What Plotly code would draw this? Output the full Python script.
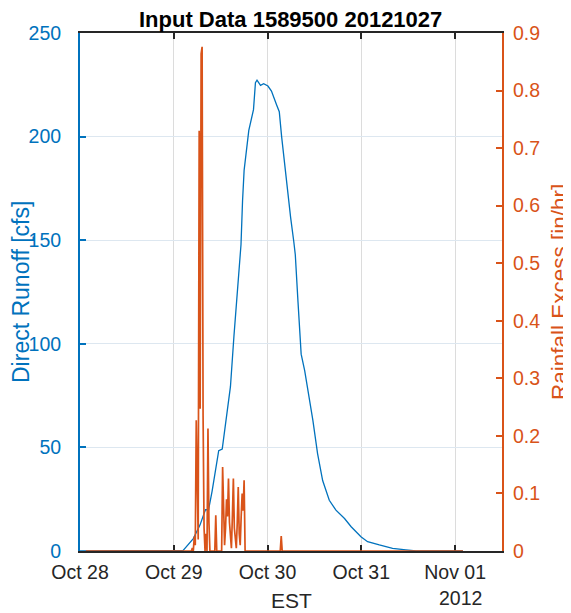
import pandas as pd
import plotly.graph_objects as go

# ---- data (hours since 2012-10-28 00:00 EST) ----
runoff_hours = [0, 24, 26.4, 29.0, 30.7, 32.1, 32.9, 33.8, 34.7, 35.5, 36.4, 37.3, 38.5,
                39.4, 40.3, 41.2, 41.6, 42.0, 43.2, 44.4, 44.9, 45.3, 46.2, 47.0, 48.1,
                49.0, 50.3, 51.0, 51.6, 52.9, 53.9, 54.7, 55.1, 55.8, 56.6, 57.5, 58.7,
                59.6, 60.8, 62.1, 63.8, 65.5, 67.7, 69.4, 71.9, 73.6, 76.6, 80.0, 83.4,
                86.0, 98.0]
runoff_cfs = [0, 0, 0.3, 6, 12.5, 19.9, 19.9, 28.8, 38.6, 48.4, 49.2, 63, 79.3,
              103.8, 128, 147.8, 169, 183.7, 203, 213, 226, 227.2, 224.7, 225.5, 224.4,
              222, 215.4, 212, 200, 177, 161, 149.5, 143, 120, 95, 87, 74,
              63, 47, 34, 24.5, 19.7, 15.7, 11.7, 6.9, 4.5, 2.9, 1.3, 0.5,
              0, 0]

rain_hours = [1.5, 28.5, 28.75, 29.0, 29.25, 29.5, 29.75, 30.0, 30.25, 30.5, 30.75,
              31.0, 31.25, 31.5, 31.75, 32.0, 32.25, 32.5, 32.75, 33.0, 33.25, 34.5,
              34.75, 35.0, 36.25, 36.5, 36.75, 37.0, 37.25, 37.5, 37.75, 38.0, 38.25,
              38.5, 38.75, 39.0, 39.25, 39.5, 39.75, 40.0, 40.25, 40.5, 40.75, 41.0,
              41.25, 41.5, 41.75, 42.0, 42.25, 51.25, 51.5, 51.75, 98.0]
rain_inhr = [0, 0, 0.005, 0, 0.025, 0.01, 0.227, 0.152, 0.02, 0.73, 0.247,
             0.864, 0.876, 0.235, 0.04, 0, 0.03, 0, 0.213, 0.05, 0, 0,
             0.062, 0, 0, 0.146, 0.048, 0.01, 0.04, 0.09, 0.06, 0.126, 0.05,
             0.02, 0.005, 0.06, 0.126, 0.04, 0.02, 0.005, 0.05, 0.111, 0.03, 0.01,
             0.06, 0.1, 0.07, 0.123, 0, 0, 0.026, 0, 0]

tick_dates = ["2012-10-28", "2012-10-29", "2012-10-30", "2012-10-31", "2012-11-01"]

base = pd.Timestamp("2012-10-28 00:00")
t_runoff = [base + pd.Timedelta(hours=h) for h in runoff_hours]
t_rain = [base + pd.Timedelta(hours=h) for h in rain_hours]

BLUE = "#0072BD"
ORANGE = "#D95319"
DARK = "#262626"
FONT = "Liberation Sans, Arial, Helvetica, sans-serif"

fig = go.Figure()
fig.add_trace(go.Scatter(x=t_runoff, y=runoff_cfs, mode="lines",
                         line=dict(color=BLUE, width=1.3), yaxis="y"))
fig.add_trace(go.Scatter(x=t_rain, y=rain_inhr, mode="lines",
                         line=dict(color=ORANGE, width=1.7), yaxis="y2"))

# the page body has an 8px margin, so the figure is 8px smaller than the window
fig.update_layout(
    template="none",
    width=563, height=605,
    margin=dict(l=72, r=69, t=25, b=62, autoexpand=False),
    plot_bgcolor="white", paper_bgcolor="white",
    showlegend=False,
    font=dict(family=FONT, size=19.5, color=DARK),
    xaxis=dict(
        type="date", automargin=False,
        range=[base, base + pd.Timedelta(hours=108)],
        tickvals=tick_dates, tickformat="%b %d",
        ticks="inside", ticklen=6, tickwidth=2, tickcolor=DARK,
        showline=True, linecolor=DARK, linewidth=2, mirror="ticks",
        showgrid=True, gridcolor="#dcdcdc", gridwidth=1,
        zeroline=False, layer="below traces",
        tickfont=dict(size=19.5, color=DARK), ticklabelstandoff=3,
    ),
    yaxis=dict(
        automargin=False,
        range=[0, 250], tickvals=[0, 50, 100, 150, 200, 250],
        ticks="inside", ticklen=6, tickwidth=2, tickcolor=BLUE,
        showline=True, linecolor=BLUE, linewidth=2,
        showgrid=True, gridcolor="#dde7f0", gridwidth=1,
        zeroline=False, tickfont=dict(size=19.5, color=BLUE), ticklabelstandoff=13,
    ),
    yaxis2=dict(
        automargin=False,
        range=[0, 0.9], tickvals=[0, 0.1, 0.2, 0.3, 0.4, 0.5, 0.6, 0.7, 0.8, 0.9],
        ticktext=["0", "0.1", "0.2", "0.3", "0.4", "0.5", "0.6", "0.7", "0.8", "0.9"],
        overlaying="y", side="right",
        ticks="inside", ticklen=6, tickwidth=2, tickcolor=ORANGE,
        showline=True, linecolor=ORANGE, linewidth=2,
        showgrid=False, zeroline=False, tickfont=dict(size=19.5, color=ORANGE),
        ticklabelstandoff=5,
    ),
)

H = 518.0
W = 422.0
def px(xp):
    return (xp - 80) / W
def py(yp):
    return (551 - yp) / H

annos = [
    dict(text="<b>Input Data 1589500 20121027</b>", x=px(290), y=py(19.5),
         font=dict(size=22, color="#000000")),
    dict(text="Direct Runoff [cfs]", x=px(21), y=py(292), textangle=-90,
         font=dict(size=23, color=BLUE)),
    dict(text="Rainfall Excess [in/hr]", x=px(559), y=py(292), textangle=-90,
         font=dict(size=22.5, color=ORANGE)),
    dict(text="EST", x=px(291), y=py(600), font=dict(size=21, color=DARK)),
    dict(text="2012", x=px(484), y=py(598), xanchor="right",
         font=dict(size=19.5, color=DARK)),
]
for a in annos:
    a.setdefault("xanchor", "center")
    fig.add_annotation(xref="paper", yref="paper", yanchor="middle",
                       showarrow=False, **a)

fig.write_html("out.html")
